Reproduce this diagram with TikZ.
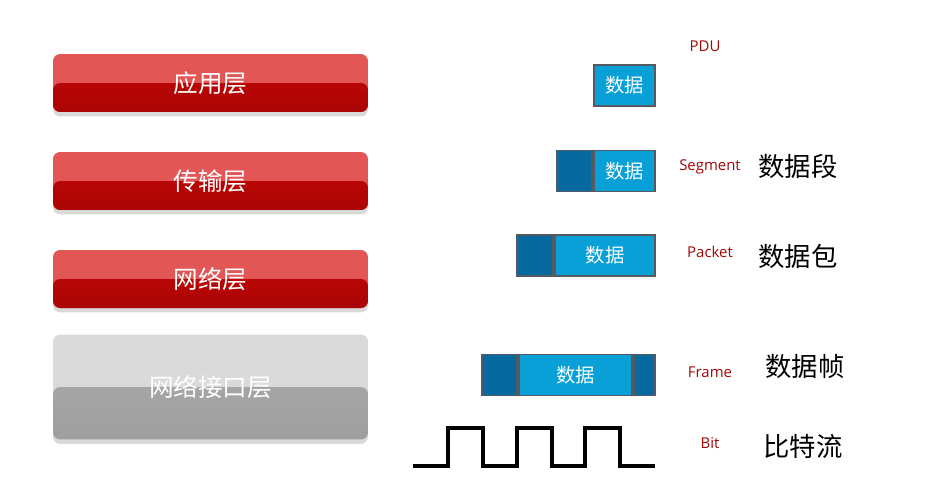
\documentclass[tikz,border=0pt]{standalone}
\usepackage{fontspec}
\setmainfont{Open Sans}
\newfontfamily\cjk{Noto Sans CJK SC}
\usetikzlibrary{positioning, shadows}
\definecolor{barlight}{RGB}{226,86,86}
\definecolor{bardeep}{RGB}{200,6,6}
\definecolor{greylight}{RGB}{218,218,218}
\definecolor{greydeep}{RGB}{172,172,172}
\definecolor{pdulight}{RGB}{8,160,214}
\definecolor{pdudark}{RGB}{6,106,160}
\definecolor{pduedge}{RGB}{85,90,96}
\definecolor{tagred}{RGB}{160,8,8}

\begin{document}
\begin{tikzpicture}[x=0.02cm, y=-0.02cm,
  redbar/.style={rounded corners=4pt, inner sep=0pt, fill=barlight,
                 minimum width=6.3cm, minimum height=1.16cm,
                 text=white, font=\cjk\fontsize{14}{14}\selectfont,
                 drop shadow={shadow xshift=0pt, shadow yshift=-2.5pt, opacity=.3},
                 path picture={\shade[top color=bardeep, bottom color=bardeep!85!black]
                   (path picture bounding box.west) rectangle (path picture bounding box.south east);}},
  greybar/.style={redbar, fill=greylight, minimum height=2.1cm,
                 path picture={\shade[top color=greydeep, bottom color=greydeep!92!black]
                   (path picture bounding box.west) rectangle (path picture bounding box.south east);}},
  datacell/.style={draw=pduedge, line width=1pt, fill=pdulight, inner sep=0pt,
                   minimum height=0.82cm, text=white, font=\cjk\fontsize{11}{11}\selectfont},
  hdrcell/.style={datacell, fill=pdudark},
  tag/.style={font=\fontsize{8.5}{10}\selectfont, text=tagred},
  unit/.style={font=\cjk\fontsize{15}{15}\selectfont},
]
  \useasboundingbox (0,0) rectangle (925,497);

  % layers
  \node[redbar] (app) at (210.5,83) {应用层};
  \node[redbar] (trans) at (210.5,181) {传输层};
  \node[redbar] (net) at (210.5,279) {网络层};
  \node[greybar] (link) at (210.5,387) {网络接口层};

  % PDU at each layer
  \node[datacell, minimum width=1.22cm] (app data) at (624.5,85.5) {数据};

  \node[datacell, minimum width=1.22cm] (seg data) at (624.5,171) {数据};
  \node[hdrcell, minimum width=0.7cm, left=0pt of seg data] (seg hdr) {};

  \node[datacell, minimum width=2cm] (pkt data) at (605,255.5) {数据};
  \node[hdrcell, minimum width=0.72cm, left=0pt of pkt data] (pkt hdr) {};

  \node[datacell, minimum width=2.26cm] (frm data) at (575.5,375) {数据};
  \node[hdrcell, minimum width=0.7cm, left=0pt of frm data] (frm hdr) {};
  \node[hdrcell, minimum width=0.42cm, right=0pt of frm data] (frm trl) {};

  % bit stream
  \draw[line width=1.8pt] (413,466) -| (448,428) -| (483,466) -| (517,428)
    -| (552,466) -| (585,428) -| (620,466) -- (655,466);

  % names
  \node[tag] (pdu) at (705,46) {PDU};
  \node[tag] (seg tag) at (710,167) {Segment};
  \node[tag] (pkt tag) at (710,252) {Packet};
  \node[tag] (frm tag) at (710,372) {Frame};
  \node[tag] (bit tag) at (710,443) {Bit};

  \node[unit] (seg name) at (798,166) {数据段};
  \node[unit] (pkt name) at (798,256) {数据包};
  \node[unit] (frm name) at (805,367) {数据帧};
  \node[unit] (bit name) at (803,446) {比特流};
\end{tikzpicture}
\end{document}
